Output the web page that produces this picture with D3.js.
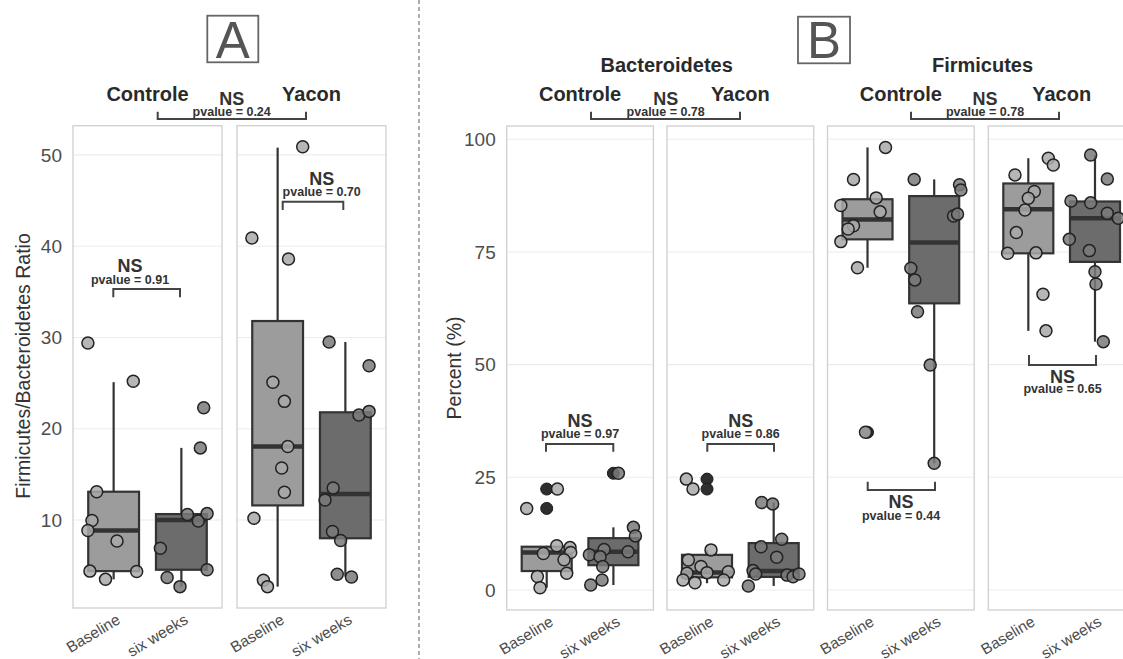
<!DOCTYPE html>
<html><head><meta charset="utf-8">
<script src="https://cdn.jsdelivr.net/npm/d3@7"></script>
<style>
body{margin:0;background:#fff}
svg{display:block}
text{font-family:"Liberation Sans",Arial,Helvetica,sans-serif}
</style>
</head><body>
<svg id="c" width="1123" height="659"></svg>
<script>
// ---------------- data ----------------
const times = ["Baseline", "six weeks"];
const diets = ["Controle", "Yacon"];
const phyla = ["Bacteroidetes", "Firmicutes"];
const ratioTicks = [10, 20, 30, 40, 50];
const pctTicks = [0, 25, 50, 75, 100];

// box stats: [lower whisker, q1, median, q3, upper whisker]
// order in each array: [diet][time]
const ratioBoxes = [
  [[3.5, 4.4, 8.85, 13.1, 25.1], [2.7, 4.55, 10.0, 10.65, 17.9]],
  [[2.7, 11.6, 18.05, 31.8, 50.8], [3.8, 8.0, 12.85, 21.8, 29.5]]
];
const ratioPoints = [
  [[29.4, 25.2, 13.1, 9.95, 8.85, 7.7, 4.4, 4.35, 3.5],
   [6.9, 3.7, 2.7, 10.6, 9.9, 10.7, 4.55, 17.9, 22.3]],
  [[40.9, 38.6, 50.9, 25.1, 23.0, 18.05, 15.7, 13.05, 10.2, 3.4, 2.7],
   [29.5, 26.9, 21.5, 21.9, 13.5, 12.2, 8.75, 7.75, 4.05, 3.75]]
];
const ratioJitter = [
  [[-0.38, 0.29, -0.25, -0.32, -0.38, 0.05, -0.35, 0.34, -0.12],
   [-0.31, -0.21, -0.02, 0.09, 0.25, 0.38, 0.38, 0.28, 0.33]],
  [[-0.38, 0.16, 0.37, -0.07, 0.10, 0.15, 0.06, 0.10, -0.35, -0.21, -0.15],
   [-0.24, 0.35, 0.20, 0.35, -0.18, -0.30, -0.19, -0.07, -0.12, 0.09]]
];

const bactBoxes = [
  [[0.5, 4.2, 8.3, 9.6, 9.8], [1.1, 5.5, 8.5, 11.5, 13.9]],
  [[1.5, 2.8, 3.9, 7.8, 8.9], [0.9, 2.9, 4.2, 10.4, 19.4]]
];
const bactPoints = [
  [[18.1, 22.4, 8.1, 9.8, 9.4, 8.3, 6.7, 3.7, 3.0, 0.5],
   [25.9, 13.9, 12.0, 8.5, 9.0, 7.8, 7.4, 5.2, 2.2, 1.1]],
  [[24.6, 22.4, 8.9, 6.65, 5.2, 3.7, 3.85, 4.05, 2.2, 1.6, 2.2],
   [19.4, 19.1, 11.25, 9.6, 7.25, 4.3, 3.55, 3.3, 2.95, 3.55, 0.9]]
];
const bactJitter = [
  [[-0.30, 0.16, -0.05, 0.15, 0.35, 0.36, 0.26, 0.30, -0.14, -0.10],
   [0.075, 0.30, 0.33, 0.22, -0.14, -0.36, -0.20, -0.16, -0.17, -0.34]],
  [[-0.31, -0.21, 0.06, -0.28, -0.09, -0.30, 0.0, 0.32, -0.36, -0.18, 0.25],
   [-0.18, -0.015, 0.12, -0.19, 0.045, -0.31, -0.27, 0.20, 0.29, 0.38, -0.38]]
];
const bactOutliers = [[[22.4, 18.1], [25.9]], [[24.6, 22.4], []]];

const firmBoxes = [
  [[71.5, 77.8, 82.2, 86.7, 98.2], [28.1, 63.6, 77.1, 87.4, 91.1]],
  [[57.5, 74.7, 84.5, 90.2, 95.8], [55.1, 72.8, 82.5, 86.2, 96.5]]
];
const firmPoints = [
  [[98.2, 91.1, 87.0, 85.3, 83.9, 80.8, 80.1, 77.3, 71.5, 35.0],
   [91.1, 89.9, 88.75, 83.0, 83.4, 71.4, 68.8, 61.75, 49.9, 28.1]],
  [[95.8, 94.3, 92.1, 88.4, 86.9, 84.3, 79.3, 74.7, 74.8, 65.6, 57.5],
   [96.5, 91.2, 86.3, 85.9, 83.6, 82.5, 77.8, 75.3, 70.6, 67.9, 55.1]]
];
const firmJitter = [
  [[0.27, -0.21, 0.13, -0.40, 0.19, -0.21, -0.29, -0.40, -0.15, -0.03],
   [-0.30, 0.38, 0.40, 0.29, 0.35, -0.35, -0.29, -0.25, -0.06, 0.0]],
  [[0.30, 0.375, -0.20, 0.09, 0.0, -0.05, -0.18, -0.31, 0.115, 0.22, 0.265],
   [-0.065, 0.185, -0.36, -0.065, 0.185, 0.35, -0.385, -0.085, 0.0, 0.015, 0.125]]
];
const firmOutliers = [[[35.0], []], [[], []]];

const pvalTop = ["0.24", "0.78", "0.78"];
const pvalRatio = ["0.91", "0.70"];
const pvalBact = ["0.97", "0.86"];
const pvalFirm = ["0.44", "0.65"];

// ---------------- drawing ----------------
const svg = d3.select("#c");
const boxFill = ["#9c9c9c", "#6c6c6c"];
const ptFill = ["#a9a9a9", "#7a7a7a"];
const ink = "#333333";

function facet(x0, w, y, ticks, boxes, pts, jit, outs) {
  const g = svg.append("g");
  const x = d3.scaleLinear().domain([0.4, 2.6]).range([x0, x0 + w]);
  const [yb, yt] = y.range();
  g.selectAll("line.grid").data(ticks).join("line")
    .attr("x1", x0).attr("x2", x0 + w)
    .attr("y1", d => y(d)).attr("y2", d => y(d))
    .attr("stroke", "#ececec").attr("stroke-width", 1.1);
  g.append("rect").attr("x", x0).attr("y", yt).attr("width", w).attr("height", yb - yt)
    .attr("fill", "none").attr("stroke", "#cfcfcf").attr("stroke-width", 1.3);
  const half = x(1.375) - x(1);
  times.forEach((t, i) => {
    const s = boxes[i], cx = x(i + 1);
    g.append("line").attr("x1", cx).attr("x2", cx).attr("y1", y(s[4])).attr("y2", y(s[3]))
      .attr("stroke", ink).attr("stroke-width", 2.2);
    g.append("line").attr("x1", cx).attr("x2", cx).attr("y1", y(s[1])).attr("y2", y(s[0]))
      .attr("stroke", ink).attr("stroke-width", 2.2);
    g.append("rect").attr("x", cx - half).attr("y", y(s[3])).attr("width", 2 * half)
      .attr("height", y(s[1]) - y(s[3])).attr("fill", boxFill[i])
      .attr("stroke", ink).attr("stroke-width", 2.2);
    g.append("line").attr("x1", cx - half).attr("x2", cx + half)
      .attr("y1", y(s[2])).attr("y2", y(s[2])).attr("stroke", ink).attr("stroke-width", 4.5);
    if (outs) {
      g.selectAll(null).data(outs[i]).join("circle")
        .attr("cx", cx).attr("cy", d => y(d)).attr("r", 6)
        .attr("fill", "#2e2e2e").attr("stroke", "#1a1a1a").attr("stroke-width", 1);
    }
  });
  times.forEach((t, i) => {
    g.selectAll(null).data(pts[i].map((v, k) => [v, jit[i][k]])).join("circle")
      .attr("cx", d => x(i + 1 + d[1])).attr("cy", d => y(d[0])).attr("r", 6)
      .attr("fill", ptFill[i]).attr("fill-opacity", 0.85)
      .attr("stroke", "#222").attr("stroke-width", 1.5);
  });
  times.forEach((t, i) => {
    const cx = x(i + 1) + 2, ty = yb + 5;
    g.append("text").attr("x", cx).attr("y", ty).attr("dy", "0.72em")
      .attr("text-anchor", "end").attr("transform", `rotate(-31,${cx},${ty})`)
      .attr("font-size", 15.5).attr("fill", "#4d4d4d").text(t);
  });
  return x;
}

function yAxis(x0, y, ticks) {
  const ax = svg.append("g").attr("transform", `translate(${x0},0)`)
    .call(d3.axisLeft(y).tickValues(ticks).tickSize(0).tickPadding(11));
  ax.select(".domain").remove();
  ax.selectAll("text").attr("font-size", 19).attr("fill", "#4d4d4d")
    .attr("font-family", '"Liberation Sans",Arial,sans-serif');
}

function label(x, y, txt, size, weight, fill) {
  svg.append("text").attr("x", x).attr("y", y).attr("text-anchor", "middle")
    .attr("font-size", size).attr("font-weight", weight || "normal")
    .attr("fill", fill || ink).text(txt);
}

function bracket(x1, x2, yLine, yLeg) {
  svg.append("path").attr("d", `M${x1},${yLeg}V${yLine}H${x2}V${yLeg}`)
    .attr("fill", "none").attr("stroke", "#444").attr("stroke-width", 2);
}

function sig(cx, nsY, pY, p) {
  label(cx, nsY, "NS", 18, "bold", "#333");
  label(cx, pY, "pvalue = " + p, 12.5, "bold", "#333");
}

// ---- Panel A ----
const yA = d3.scaleLinear().domain([0.36, 53.2]).range([608, 125.7]);
const fA = [73, 237], wA = 149;
fA.forEach((x0, d) => {
  facet(x0, wA, yA, ratioTicks, ratioBoxes[d], ratioPoints[d], ratioJitter[d], null);
  label(x0 + wA / 2, 101, diets[d], 20, "bold", "#2a2a2a");
});
yAxis(fA[0], yA, ratioTicks);
svg.append("text").attr("transform", "translate(30,366) rotate(-90)")
  .attr("text-anchor", "middle").attr("font-size", 19.5).attr("fill", "#333")
  .text("Firmicutes/Bacteroidetes Ratio");
bracket(157.7, 306, 119, 111.7); sig(231.7, 104.5, 115.5, pvalTop[0]);
bracket(113.3, 180, 289, 297.3); sig(130, 272, 283.5, pvalRatio[0]);
bracket(282.7, 343.3, 201.7, 210); sig(321.7, 185, 196, pvalRatio[1]);

svg.append("rect").attr("x", 207.3).attr("y", 15.7).attr("width", 51).attr("height", 46.6)
  .attr("fill", "none").attr("stroke", "#666").attr("stroke-width", 1.8);
label(232.8, 58.3, "A", 51, "normal", "#555");

svg.append("line").attr("x1", 419).attr("x2", 419).attr("y1", 0).attr("y2", 659)
  .attr("stroke", "#9a9a9a").attr("stroke-width", 1.6).attr("stroke-dasharray", "4,3");

// ---- Panel B ----
const yB = d3.scaleLinear().domain([-4.44, 102.95]).range([610, 126]);
const fB = [506.7, 667, 827.5, 988.3], wB = 146.7;
const bData = [[bactBoxes, bactPoints, bactJitter, bactOutliers], [firmBoxes, firmPoints, firmJitter, firmOutliers]];
fB.forEach((x0, k) => {
  const p = Math.floor(k / 2), d = k % 2;
  const [bx, pt, jt, ot] = bData[p];
  facet(x0, wB, yB, pctTicks, bx[d], pt[d], jt[d], ot[d]);
  label(x0 + wB / 2, 101, diets[d], 20, "bold", "#2a2a2a");
});
yAxis(fB[0], yB, pctTicks);
svg.append("text").attr("transform", "translate(461,368) rotate(-90)")
  .attr("text-anchor", "middle").attr("font-size", 19.5).attr("fill", "#333")
  .text("Percent (%)");
label(666.7, 71.5, phyla[0], 20, "bold", "#2a2a2a");
label(982.5, 71.5, phyla[1], 20, "bold", "#2a2a2a");

bracket(591, 740, 119, 111.7); sig(665.7, 104.5, 115.5, pvalTop[1]);
bracket(911, 1059, 119, 111.7); sig(985, 104.5, 115.5, pvalTop[2]);
bracket(546, 613.3, 444, 451.7); sig(580, 426.7, 438.3, pvalBact[0]);
bracket(707.3, 774, 444, 451.7); sig(740.7, 426.7, 438.3, pvalBact[1]);
bracket(867.7, 935, 490, 481.7); sig(901, 508.3, 519.5, pvalFirm[0]);
bracket(1029, 1096, 365, 355); sig(1062.5, 382.7, 393, pvalFirm[1]);

svg.append("rect").attr("x", 798).attr("y", 16.7).attr("width", 52).attr("height", 46.6)
  .attr("fill", "none").attr("stroke", "#666").attr("stroke-width", 1.8);
label(824, 58.3, "B", 51, "normal", "#555");
</script>
</body></html>
